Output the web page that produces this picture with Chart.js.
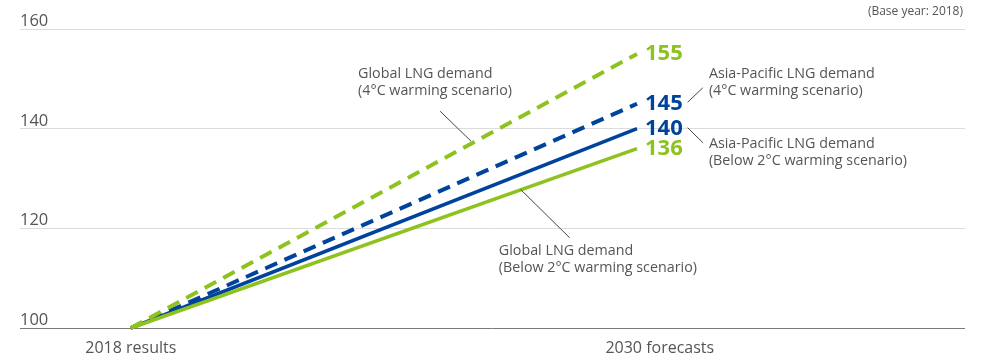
<!DOCTYPE html>
<html>
<head>
<meta charset="utf-8">
<script src="https://cdn.jsdelivr.net/npm/chart.js@4.4.1/dist/chart.umd.min.js"></script>
<style>
  html, body { margin: 0; padding: 0; background: #fff; }
  #wrap { width: 982px; height: 358px; position: relative; }
</style>
</head>
<body>
<div id="wrap"><canvas id="LngChart"></canvas></div>
<script>
// x: 0 = 2018 results, 1 = 2030 forecasts
const periods = [0, 1];
const period_labels = ['2018 results', '2030 forecasts'];
const y_ticks = [100, 120, 140, 160];

const global_4c = [100, 155];
const asia_4c = [100, 145];
const asia_2c = [100, 140];
const global_2c = [100, 136];

const GREEN = '#8dc21f';
const BLUE = '#00439c';
const TEXT = '#555555';

// callouts in data coordinates: leader from/to, text lines and text anchor
const callouts = [
    {from: [0.672, 137.5], to: [0.611, 143.5], text: ['Global LNG demand', '(4°C warming scenario)'], tx: 0.449, ty: 150.2},
    {from: [1.1, 145.3], to: [1.13, 148.2], text: ['Asia-Pacific LNG demand', '(4°C warming scenario)'], tx: 1.142, ty: 150.2},
    {from: [1.1, 140.2], to: [1.13, 137.2], text: ['Asia-Pacific LNG demand', '(Below 2°C warming scenario)'], tx: 1.142, ty: 136.2},
    {from: [0.77, 127.8], to: [0.867, 118.1], text: ['Global LNG demand', '(Below 2°C warming scenario)'], tx: 0.727, ty: 114.6}
];

const toPoints = (vals) => vals.map((v, i) => ({x: periods[i], y: v}));

const textPlugin = {
    id: 'lngText',
    afterDraw(chart) {
        const ctx = chart.ctx;
        const xs = chart.scales.x;
        const ys = chart.scales.y;
        const area = chart.chartArea;
        ctx.save();

        // y tick labels sitting on top of the grid lines
        ctx.fillStyle = TEXT;
        ctx.font = '16.5px "Open Sans"';
        ctx.textAlign = 'left';
        ctx.textBaseline = 'alphabetic';
        y_ticks.forEach(t => {
            ctx.fillText(String(t), area.left, ys.getPixelForValue(t) - 3);
        });

        // x labels
        ctx.font = '16px "Open Sans"';
        ctx.textAlign = 'center';
        ctx.fillText(period_labels[0], xs.getPixelForValue(periods[0]), 353);
        ctx.fillText(period_labels[1], xs.getPixelForValue(1.045), 353);

        // base year note
        ctx.font = '12px "Open Sans"';
        ctx.textAlign = 'right';
        ctx.fillText('(Base year: 2018)', area.right - 2, 15);

        // end values
        ctx.font = 'bold 22px "Open Sans"';
        ctx.textAlign = 'left';
        ctx.textBaseline = 'middle';
        const ends = [[global_4c, GREEN], [asia_4c, BLUE], [asia_2c, BLUE], [global_2c, GREEN]];
        ends.forEach(([vals, col]) => {
            ctx.fillStyle = col;
            ctx.fillText(String(vals[1]), xs.getPixelForValue(periods[1]) + 8, ys.getPixelForValue(vals[1]));
        });

        // callouts
        ctx.strokeStyle = '#444';
        ctx.lineWidth = 1;
        ctx.font = '14.3px "Open Sans"';
        ctx.fillStyle = TEXT;
        ctx.textBaseline = 'alphabetic';
        callouts.forEach(c => {
            ctx.beginPath();
            ctx.moveTo(xs.getPixelForValue(c.from[0]), ys.getPixelForValue(c.from[1]));
            ctx.lineTo(xs.getPixelForValue(c.to[0]), ys.getPixelForValue(c.to[1]));
            ctx.stroke();
            const x0 = xs.getPixelForValue(c.tx);
            const y0 = ys.getPixelForValue(c.ty);
            c.text.forEach((line, i) => ctx.fillText(line, x0, y0 + i * 17));
        });
        ctx.restore();
    }
};

const lng_chart = new Chart(
    document.getElementById('LngChart'),
    {
        type: 'line',
        data: {
            datasets: [
                {
                    label: 'Global LNG demand (4°C warming scenario)',
                    data: toPoints(global_4c),
                    borderColor: GREEN,
                    borderWidth: 4,
                    borderDash: [13, 8],
                    order: 1,
                },
                {
                    label: 'Asia-Pacific LNG demand (4°C warming scenario)',
                    data: toPoints(asia_4c),
                    borderColor: BLUE,
                    borderWidth: 4,
                    borderDash: [13, 8],
                    order: 2,
                },
                {
                    label: 'Asia-Pacific LNG demand (Below 2°C warming scenario)',
                    data: toPoints(asia_2c),
                    borderColor: BLUE,
                    borderWidth: 3.5,
                    order: 3,
                },
                {
                    label: 'Global LNG demand (Below 2°C warming scenario)',
                    data: toPoints(global_2c),
                    borderColor: GREEN,
                    borderWidth: 3.5,
                    order: 0,
                }
            ]
        },
        options: {
            responsive: true,
            maintainAspectRatio: false,
            animation: false,
            clip: false,
            elements: {
                point: {radius: 0},
                line: {tension: 0, borderCapStyle: 'butt'}
            },
            layout: {
                padding: {left: 20, right: 17, top: 29, bottom: 30}
            },
            scales: {
                x: {
                    type: 'linear',
                    min: -0.219,
                    max: 1.648,
                    display: false,
                },
                y: {
                    min: 100,
                    max: 160,
                    afterBuildTicks: (scale) => {
                        scale.ticks = y_ticks.map(v => ({value: v}));
                    },
                    ticks: {display: false},
                    border: {display: false},
                    grid: {
                        drawTicks: false,
                        lineWidth: 1,
                        color: (c) => c.tick && c.tick.value === 100 ? '#7a7a7a' : '#dcdcdc'
                    }
                }
            },
            plugins: {
                legend: {display: false},
                tooltip: {enabled: false}
            }
        },
        plugins: [textPlugin]
    }
);
</script>
</body>
</html>
